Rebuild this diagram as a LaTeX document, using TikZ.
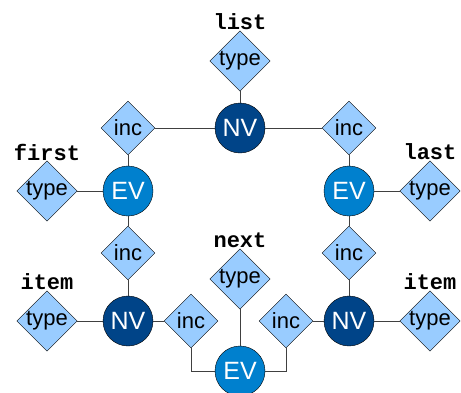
\documentclass[tikz,border=0pt]{standalone}
\usepackage{fontspec}
\setmainfont{Liberation Sans}
\newfontfamily\labelfont{Liberation Mono}
\usetikzlibrary{shapes.geometric}
\definecolor{nvblue}{RGB}{0,68,136}
\definecolor{evblue}{RGB}{0,128,206}
\definecolor{dfill}{RGB}{153,204,255}
\tikzset{
  nv/.style={circle, draw=black, fill=nvblue, minimum size=50pt, inner sep=0pt, text=white, font=\fontsize{25}{25}\selectfont},
  ev/.style={circle, draw=black, fill=evblue, minimum size=50pt, inner sep=0pt, text=white, font=\fontsize{25}{25}\selectfont},
  dia/.style={diamond, draw=black, fill=dfill, minimum width=54pt, minimum height=54pt, inner sep=0pt, font=\fontsize{22}{22}\selectfont},
  tag/.style={font=\labelfont\bfseries\fontsize{22}{22}\selectfont},
  link/.style={draw=black!75, line width=0.9pt}
}
\begin{document}
\begin{tikzpicture}[x=1pt, y=-1pt]
\useasboundingbox (0,0) rectangle (461,392);
\begin{scope}
\clip (0,0) rectangle (461,392);
% vertices
\node[nv] (nt)  at (240,128) {NV};
\node[ev] (el)  at (128,191) {EV};
\node[ev] (er)  at (349,191) {EV};
\node[nv] (nl)  at (128,321) {NV};
\node[nv] (nr)  at (349,321) {NV};
\node[ev] (eb)  at (240,371) {EV};
% incidences
\node[dia] (i1) at (128,128) {inc};
\node[dia] (i2) at (349,128) {inc};
\node[dia] (i3) at (128,253) {inc};
\node[dia] (i4) at (349,253) {inc};
\node[dia] (i5) at (191,321) {inc};
\node[dia] (i6) at (286,321) {inc};
% types
\node[dia] (tl) at (240,61)  {type};
\node[dia] (tf) at (47,191)  {type};
\node[dia] (tr) at (430,191) {type};
\node[dia] (tn) at (240,279) {type};
\node[dia] (ta) at (47,321)  {type};
\node[dia] (tb) at (430,321) {type};
% labels
\node[tag] (lt) at (240,22)  {list};
\node[tag] (lf) at (47,152)  {first};
\node[tag] (lr) at (430,152) {last};
\node[tag] (ln) at (240,240) {next};
\node[tag] (la) at (47,282)  {item};
\node[tag] (lb) at (430,282) {item};
% connectors
\path[link] (tl) -- (nt);
\path[link] (i1) -- (nt);
\path[link] (nt) -- (i2);
\path[link] (i1) -- (el);
\path[link] (i2) -- (er);
\path[link] (tf) -- (el);
\path[link] (er) -- (tr);
\path[link] (el) -- (i3);
\path[link] (er) -- (i4);
\path[link] (i3) -- (nl);
\path[link] (i4) -- (nr);
\path[link] (ta) -- (nl);
\path[link] (nr) -- (tb);
\path[link] (nl) -- (i5);
\path[link] (i6) -- (nr);
\path[link] (i5.south) |- (eb.west);
\path[link] (i6.south) |- (eb.east);
\path[link] (tn) -- (eb);
\end{scope}
\end{tikzpicture}
\end{document}
